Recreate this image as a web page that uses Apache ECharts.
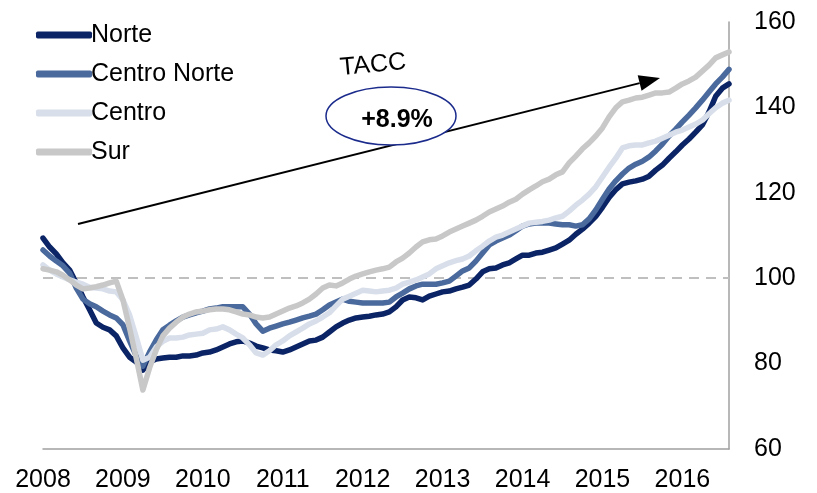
<!DOCTYPE html>
<html>
<head>
<meta charset="utf-8">
<script src="https://cdn.jsdelivr.net/npm/echarts@6/dist/echarts.min.js"></script>
<style>
html,body{margin:0;padding:0;background:#fff;}
#chart{width:817px;height:493px;}
</style>
</head>
<body>
<div id="chart"></div>
<script>
// ---- DATA ----
var startYear = 2008;
var monthCount = 104; // Jan 2008 .. Aug 2016
var yearLabels = ['2008','2009','2010','2011','2012','2013','2014','2015','2016'];
var seriesNames = ['Norte','Centro Norte','Centro','Sur'];

var norte = [109.4,107.3,105.7,103.6,101.9,98.9,95.6,92.6,89.5,88.5,87.9,86.5,
  83.7,81.5,80.4,78.5,80.4,81.1,81.3,81.5,81.5,81.8,81.8,82.0,
  82.5,82.7,83.2,83.9,84.6,85.1,85.3,84.8,84.1,83.7,83.2,83.0,
  82.7,83.2,83.9,84.6,85.3,85.5,86.2,87.4,88.6,89.5,90.2,90.7,
  90.9,91.1,91.4,91.6,92.1,93.3,94.9,95.6,95.4,94.9,95.8,96.3,
  96.8,97.0,97.5,97.9,98.4,99.8,101.5,102.2,102.4,103.1,103.6,104.5,
  105.4,105.4,105.9,106.1,106.6,107.1,108.0,108.9,110.3,111.5,112.9,114.5,
  116.6,118.9,120.7,122.1,122.5,122.8,123.2,123.9,125.3,126.5,128.1,129.6,
  131.2,132.6,134.2,135.9,138.9,142.6,144.5,145.5];

var centroNorte = [106.6,105.2,104.0,102.9,101.2,97.7,95.1,94.0,93.3,92.3,91.4,90.7,
  89.1,85.3,81.8,79.4,82.7,85.5,87.9,89.0,90.0,90.9,91.4,91.9,
  92.3,92.8,93.0,93.3,93.3,93.3,93.3,91.6,89.3,87.6,88.3,88.8,
  89.3,89.7,90.2,90.7,91.1,91.6,92.6,93.7,94.4,95.1,94.6,94.4,
  94.2,94.2,94.2,94.2,94.4,95.6,96.5,97.5,98.2,98.6,98.6,98.6,
  98.9,99.3,100.5,101.7,102.4,104.0,105.9,107.8,108.7,109.4,110.1,111.1,
  112.2,112.7,112.9,112.9,112.9,112.7,112.5,112.5,112.2,112.5,113.9,116.0,
  118.5,120.9,122.8,124.4,125.8,126.7,127.4,128.4,129.8,131.4,133.3,134.9,
  136.6,138.2,139.9,141.7,143.6,145.5,147.1,148.9];

var centro = [103.1,101.9,101.0,100.3,99.6,99.1,98.6,97.9,97.7,97.5,97.0,96.8,
  94.9,91.4,86.2,80.8,81.5,83.9,85.2,86.0,86.0,86.2,86.7,86.9,
  87.1,87.9,88.1,88.6,87.9,86.9,86.0,84.4,82.5,82.0,83.0,84.4,
  85.3,86.5,87.4,88.3,89.3,90.0,90.9,91.9,93.5,95.1,95.8,96.5,
  97.2,97.0,96.8,97.0,97.2,97.7,98.6,99.1,99.6,100.3,101.0,102.2,
  102.9,103.6,104.1,104.5,105.2,106.4,107.5,108.7,109.6,110.1,110.8,111.5,
  112.2,112.9,113.1,113.3,113.6,114.1,114.5,115.7,117.1,118.3,119.7,121.4,
  123.7,126.0,128.1,130.5,131.0,131.2,131.2,131.7,132.1,132.8,133.5,134.2,
  134.7,135.4,136.1,137.0,138.5,139.9,141.0,141.7];

var sur = [102.2,101.9,101.5,100.7,99.6,98.4,97.5,97.7,98.0,98.4,98.9,99.3,
  94.9,88.3,81.3,73.8,79.0,83.2,86.5,88.3,89.7,90.9,91.6,92.1,
  92.3,92.6,92.8,92.8,92.6,92.1,91.6,91.4,90.9,90.7,90.9,91.6,
  92.3,93.0,93.5,94.2,95.1,96.3,97.7,98.4,98.2,98.9,99.8,100.5,
  101.0,101.5,101.9,102.2,102.6,103.8,104.7,105.9,107.3,108.5,109.0,109.2,
  109.9,110.8,111.5,112.2,112.9,113.6,114.5,115.5,116.2,116.9,117.8,118.5,
  119.7,120.7,121.6,122.6,123.2,124.2,124.9,127.0,128.6,130.3,131.7,133.3,
  135.2,137.8,139.9,141.3,141.7,142.2,142.4,142.9,143.4,143.4,143.6,144.5,
  145.5,146.2,147.1,148.5,149.9,151.6,152.3,153.0];

var yTicks = {min: 60, max: 160, interval: 20};
var refLevel = 100;
var annotTitle = 'TACC';
var annotValue = '+8.9%';

// ---- BUILD ----
var categories = [];
for (var i = 0; i < monthCount; i++) {
  var y = startYear + Math.floor(i / 12);
  var m = (i % 12) + 1;
  categories.push(y + '-' + (m < 10 ? '0' + m : m));
}

var colors = ['#0b2465', '#4a699c', '#d8dfea', '#c8c8c8'];
var FONT = '"Liberation Sans", Arial, sans-serif';
var allData = [norte, centroNorte, centro, sur];

var series = seriesNames.map(function (name, idx) {
  var s = {
    name: name,
    type: 'line',
    data: allData[idx],
    showSymbol: false,
    symbol: 'none',
    smooth: false,
    lineStyle: {width: 5.5, color: colors[idx], cap: 'round', join: 'round'},
    itemStyle: {color: colors[idx]},
    z: 2 + idx,
    animation: false
  };
  if (idx === 0) {
    s.markLine = {
      silent: true,
      symbol: ['none', 'none'],
      label: {show: false},
      lineStyle: {color: '#bfbfbf', type: [10, 7], width: 2},
      data: [{yAxis: refLevel}],
      z: 1
    };
  }
  return s;
});

// arrow geometry (annotation)
var ax0 = 78, ay0 = 224, ax1 = 660, ay1 = 78;
var dx = ax1 - ax0, dy = ay1 - ay0, len = Math.sqrt(dx * dx + dy * dy);
var ux = dx / len, uy = dy / len, nx = -uy, ny = ux;
var headLen = 21, headHalf = 8;
var bx = ax1 - ux * headLen, by = ay1 - uy * headLen;

var chart = echarts.init(document.getElementById('chart'), null, {renderer: 'canvas'});
chart.setOption({
  animation: false,
  backgroundColor: '#ffffff',
  color: colors,
  grid: {left: 43, right: 88, top: 22, bottom: 44, containLabel: false},
  legend: {
    orient: 'vertical',
    left: 31,
    top: 16,
    itemWidth: 56,
    itemHeight: 7,
    itemGap: 11,
    icon: 'roundRect',
    data: seriesNames,
    textStyle: {fontFamily: FONT, fontSize: 25, color: '#000', lineHeight: 28, padding: [0, 0, 0, -6]},
    selectedMode: false
  },
  xAxis: {
    type: 'category',
    data: categories,
    boundaryGap: false,
    axisLine: {show: true, lineStyle: {color: '#a0a0a0', width: 1.5}},
    axisTick: {show: false},
    splitLine: {show: false},
    axisLabel: {
      interval: 11,
      margin: 19,
      fontFamily: FONT,
      fontSize: 25,
      color: '#000',
      formatter: function (v) { return v.substring(0, 4); }
    }
  },
  yAxis: {
    type: 'value',
    position: 'right',
    min: yTicks.min,
    max: yTicks.max,
    interval: yTicks.interval,
    axisLine: {show: true, lineStyle: {color: '#a0a0a0', width: 1.5}},
    axisTick: {show: false},
    splitLine: {show: false},
    axisLabel: {margin: 25, fontFamily: FONT, fontSize: 25, color: '#000'}
  },
  series: series,
  graphic: [
    {
      type: 'line',
      shape: {x1: ax0, y1: ay0, x2: bx, y2: by},
      style: {stroke: '#000', lineWidth: 2},
      z: 100
    },
    {
      type: 'polygon',
      shape: {points: [[ax1, ay1], [bx + nx * headHalf, by + ny * headHalf], [bx - nx * headHalf, by - ny * headHalf]]},
      style: {fill: '#000'},
      z: 100
    },
    {
      type: 'ellipse',
      shape: {cx: 391, cy: 116, rx: 65, ry: 29},
      style: {fill: '#ffffff', stroke: '#1b2b8c', lineWidth: 1.5},
      z: 101
    },
    {
      type: 'text',
      x: 397, y: 120,
      style: {text: annotValue, font: 'bold 25px ' + FONT, fill: '#000', align: 'center', verticalAlign: 'middle'},
      z: 102
    },
    {
      type: 'text',
      x: 373, y: 65,
      rotation: 0.096,
      style: {text: annotTitle, font: '25px ' + FONT, fill: '#000', align: 'center', verticalAlign: 'middle'},
      z: 102
    }
  ]
});
</script>
</body>
</html>
